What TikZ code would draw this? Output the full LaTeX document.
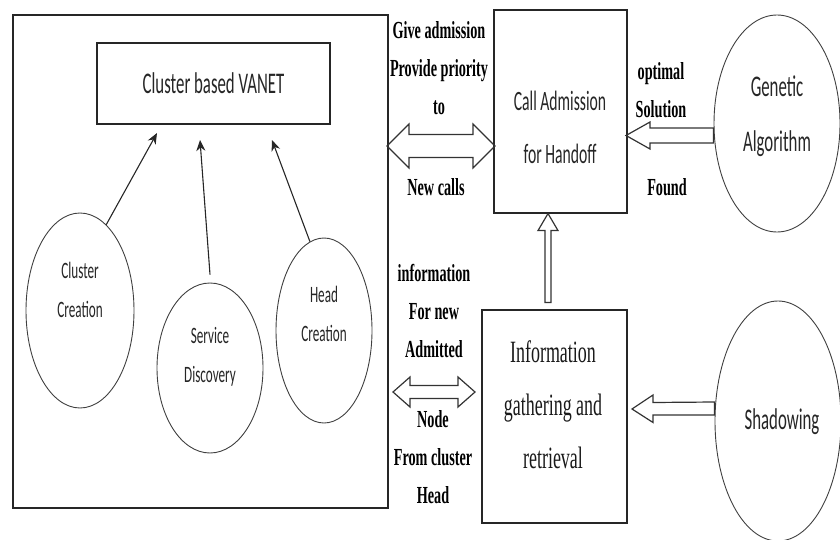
\documentclass[tikz,border=0pt]{standalone}
\usepackage{fontspec}
\setmainfont{Liberation Serif}
\newfontfamily\sanscond[FakeStretch=0.56]{Carlito}
\newfontfamily\sercond[FakeStretch=0.58]{Liberation Serif}
\usetikzlibrary{shapes.geometric,arrows.meta}
\begin{document}
\begin{tikzpicture}[x=1pt,y=-1pt,
  box/.style={draw=black!85, line width=1.1pt, rectangle, inner sep=0pt},
  oval/.style={draw=black!75, line width=0.9pt, ellipse, inner sep=0pt},
  arr/.style={draw=black!85, line width=1.1pt, -{Stealth[length=11pt,width=9pt]}},
  blk/.style={draw=black!80, line width=1.2pt, line join=miter},
  boxtext/.style={font=\sanscond\fontsize{28}{53}\selectfont, align=center, inner sep=0pt, text=black!85},
  ovaltext/.style={font=\sanscond\fontsize{23.5}{39}\selectfont, align=center, inner sep=0pt, text=black!85},
  bigoval/.style={font=\sanscond\fontsize{30}{55}\selectfont, align=center, inner sep=0pt, text=black!85},
  sertext/.style={font=\sercond\fontsize{31}{53}\selectfont, align=center, inner sep=0pt, text=black!90},
  lbl/.style={font=\sercond\bfseries\fontsize{24.5}{38}\selectfont, align=center, inner sep=0pt, text=black}
]
\useasboundingbox (0,0) rectangle (840,540);

% left big box and its contents
\node[box, minimum width=375pt, minimum height=493pt] (big) at (200.5,261.5) {};
\node[box, minimum width=233pt, minimum height=81pt, font=\sanscond\fontsize{30}{34}\selectfont, text=black!85] (vanet) at (213.5,83.5) {Cluster based VANET};

\node[oval, minimum width=108pt, minimum height=195pt] (cc) at (80,310.5) {};
\node[ovaltext] (cctext) at (80,290) {Cluster\\Creation};
\node[oval, minimum width=106pt, minimum height=170pt] (sd) at (210,368) {};
\node[ovaltext] (sdtext) at (210,357) {Service\\Discovery};
\node[oval, minimum width=96pt, minimum height=185pt] (hc) at (324,330.5) {};
\node[ovaltext] (hctext) at (324,314) {Head\\Creation};

\coordinate (t1) at (157,133);
\coordinate (t2) at (200,140);
\coordinate (t3) at (272,140);
\draw[arr] (cc.73) -- (t1);
\draw[arr] ([yshift=8pt]sd.north) -- (t2);
\draw[arr] (hc.99) -- (t3);

% middle boxes
\node[box, minimum width=133pt, minimum height=203pt] (ca) at (560.5,111.5) {};
\node[boxtext] (catext) at (560,127) {Call Admission\\for Handoff};
\node[box, minimum width=145pt, minimum height=213pt] (info) at (554.5,416.5) {};
\node[sertext] (infotext) at (553,405) {Information\\gathering and\\retrieval};

% right ellipses
\node[oval, minimum width=126pt, minimum height=217pt] (ga) at (777,123.5) {};
\node[bigoval] (gatext) at (777,116) {Genetic\\Algorithm};
\node[oval, minimum width=126pt, minimum height=240pt] (sh) at (778,421) {};
\node[bigoval] (shtext) at (782,422) {Shadowing};

% labels
\node[lbl] (l1) at (439,68) {Give admission\\Provide priority\\to};
\node[lbl] (l2) at (436,187) {New calls};
\node[lbl] (l3) at (661,90) {optimal\\Solution};
\node[lbl] (l4) at (667,187) {Found};
\node[lbl] (l5) at (434,311) {information\\For new\\Admitted};
\node[lbl] (l6) at (433,457) {Node\\From cluster\\Head};

% block arrows
\coordinate (ual) at (387,146);
\draw[blk] (ual) -- ++(22,-22) -- ++(0,10.5) -- ++(64,0) -- ++(0,-10.5) -- ++(22,22)
  -- ++(-22,22) -- ++(0,-10.5) -- ++(-64,0) -- ++(0,10.5) -- cycle;
\coordinate (lal) at (393,392);
\draw[blk] (lal) -- ++(17,-15) -- ++(0,8.5) -- ++(48,0) -- ++(0,-8.5) -- ++(17,15)
  -- ++(-17,15) -- ++(0,-8.5) -- ++(-48,0) -- ++(0,8.5) -- cycle;
\coordinate (gtip) at (626,135.5);
\draw[blk] (gtip) -- ++(24,-13.5) -- ++(0,6) -- (ga.west |- 0,128) -- (ga.west |- 0,143) -- (650,143) -- ++(0,6) -- cycle;
\coordinate (stip) at (632,409);
\draw[blk] (stip) -- ++(21,-14) -- ++(0,7.5) -- (sh.west |- 0,402) -- (sh.west |- 0,415) -- (653,415) -- ++(0,7.5) -- cycle;
\coordinate (vtip) at (ca.south);
\draw[blk] ([xshift=-12.5pt]vtip) -- ++(-10,17) -- ++(7,0) -- ++(0,72) -- ++(6,0) -- ++(0,-72) -- ++(7,0) -- cycle;
\end{tikzpicture}
\end{document}
